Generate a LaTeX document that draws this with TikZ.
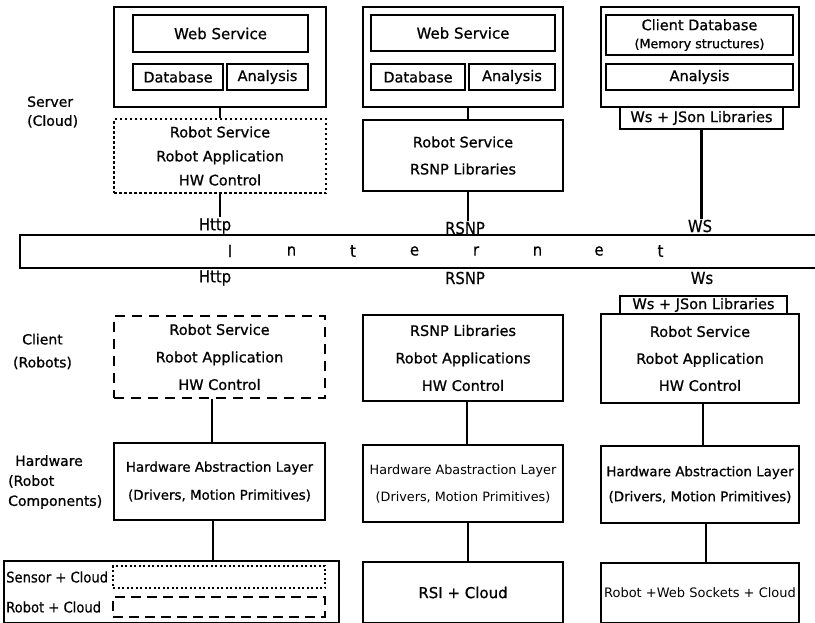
\documentclass[tikz,border=0pt]{standalone}
\usepackage{fontspec}
\setmainfont{DejaVu Sans}[FakeBold=0.8]
\newfontfamily\thinfont{DejaVu Sans}
\newfontfamily\condfont{DejaVu Sans Condensed}[FakeBold=0.5]

\begin{document}
\begin{tikzpicture}[x=1pt, y=-1pt,
  box/.style={draw, line width=1.4pt, inner sep=0pt, align=center, font=\fontsize{14.5}{27}\selectfont},
  dotbox/.style={box, dash pattern=on 2.5pt off 2.5pt},
  dashbox/.style={box, dash pattern=on 10pt off 7pt},
  link/.style={line width=2.3pt},
  proto/.style={font=\condfont\fontsize{16.5}{18}\selectfont, inner sep=1pt},
  side/.style={align=left, font=\fontsize{14}{19}\selectfont, inner sep=0pt}]
  \useasboundingbox (0,0) rectangle (815,622);
  \fill[white] (0,0) rectangle (815,622);
  \clip (0,0) rectangle (815,622);

  %Side labels
  \node[side, anchor=west] (lblSrv) at (27,112) {Server\\(Cloud)};
  \node[side, align=center, font=\fontsize{14}{23}\selectfont] (lblCli) at (42.5,351.5) {Client\\(Robots)};
  \node[side, anchor=west, font=\fontsize{14}{20}\selectfont] (lblHw) at (8,482) {\hspace*{7pt}Hardware\\(Robot\\Components)};

  %Server column A
  \node[box, minimum width=212pt, minimum height=100pt] (srvA) at (220,57) {};
  \node[box, minimum width=175pt, minimum height=37pt, font=\fontsize{15}{18}\selectfont] (wsA) at (220.5,33.5) {Web Service};
  \node[box, minimum width=90pt, minimum height=26pt] (dbA) at (178,77) {Database};
  \node[box, minimum width=81pt, minimum height=26pt] (anA) at (267.5,77) {Analysis};
  \node[dotbox, minimum width=212pt, minimum height=74pt, font=\fontsize{14.5}{24}\selectfont] (rsA) at (220,156)
    {Robot Service\\Robot Application\\HW Control};

  %Server column B
  \node[box, minimum width=200pt, minimum height=100pt] (srvB) at (463,57) {};
  \node[box, minimum width=184pt, minimum height=36pt, font=\fontsize{15}{18}\selectfont] (wsB) at (463,33) {Web Service};
  \node[box, minimum width=94pt, minimum height=26pt] (dbB) at (418,77) {Database};
  \node[box, minimum width=86pt, minimum height=26pt] (anB) at (512,77) {Analysis};
  \node[box, minimum width=200pt, minimum height=71pt] (rsB) at (463,155.5) {Robot Service\\RSNP Libraries};

  %Server column C
  \node[box, minimum width=198pt, minimum height=100pt] (srvC) at (700,57) {};
  \node[box, minimum width=187pt, minimum height=40pt, font=\fontsize{14.5}{18}\selectfont] (cdbC) at (699.5,35)
    {Client Database\\{\fontsize{12.7}{18}\selectfont (Memory structures)}};
  \node[box, minimum width=187pt, minimum height=26pt] (anC) at (699.5,77) {Analysis};
  \node[box, minimum width=163pt, minimum height=22pt] (wsjC) at (701.5,118) {Ws + JSon Libraries};

  %Internet
  \node[box, minimum width=820pt, minimum height=33pt] (inet) at (430,251.5) {};
  \foreach \lt [count=\i from 0] in {I,n,t,e,r,n,e,t}
    \node[proto] (ltr\i) at (230+61.5*\i,251) {\lt};
  \node[proto] (httpT) at (215,226) {Http};
  \node[proto] (rsnpT) at (465,228) {RSNP};
  \node[proto] (wsT) at (700,226) {WS};
  \node[proto] (httpB) at (215,278) {Http};
  \node[proto] (rsnpB) at (465,278) {RSNP};
  \node[proto] (wsB2) at (702,278) {Ws};

  %Client row
  \node[dashbox, minimum width=211pt, minimum height=82pt, font=\fontsize{14.5}{27.5}\selectfont] (clA) at (219.5,357)
    {Robot Service\\Robot Application\\HW Control};
  \node[box, minimum width=200pt, minimum height=86pt, font=\fontsize{14.5}{27.5}\selectfont] (clB) at (463,358)
    {RSNP Libraries\\Robot Applications\\HW Control};
  \node[box, minimum width=167pt, minimum height=18pt] (wsjD) at (703.5,305) {Ws + JSon Libraries};
  \node[box, minimum width=198pt, minimum height=89pt] (clC) at (700,358.5)
    {Robot Service\\Robot Application\\HW Control};

  %Hardware row
  \node[box, minimum width=211pt, minimum height=77pt, font=\fontsize{13.4}{28}\selectfont] (halA) at (219.5,481.5)
    {Hardware Abstraction Layer\\(Drivers, Motion Primitives)};
  \node[box, minimum width=200pt, minimum height=77pt, font=\thinfont\fontsize{12.8}{27}\selectfont] (halB) at (463,483.5)
    {Hardware Abastraction Layer\\(Drivers, Motion Primitives)};
  \node[box, minimum width=198pt, minimum height=77pt, font=\fontsize{13.4}{25}\selectfont] (halC) at (700,484.5)
    {Hardware Abstraction Layer\\(Drivers, Motion Primitives)};

  %Bottom row
  \node[box, minimum width=335pt, minimum height=62pt] (botA) at (171.5,592) {};
  \node[proto, anchor=west, inner sep=0pt, font=\condfont\fontsize{14.6}{17}\selectfont] (sensTxt) at (6,577) {Sensor + Cloud};
  \node[proto, anchor=west, inner sep=0pt, font=\condfont\fontsize{14.6}{17}\selectfont] (robTxt) at (6,607) {Robot + Cloud};
  \node[box, dash pattern=on 2pt off 2.5pt, minimum width=212pt, minimum height=22pt] (sensBox) at (219,577) {};
  \node[box, dash pattern=on 10pt off 6pt, minimum width=212pt, minimum height=20pt] (robBox) at (219,607) {};
  \node[box, minimum width=200pt, minimum height=61pt, font=\fontsize{15}{18}\selectfont] (botB) at (463,592.5) {RSI + Cloud};
  \node[box, minimum width=198pt, minimum height=60pt, font=\thinfont\fontsize{13}{16}\selectfont] (botC) at (700,593)
    {Robot +Web Sockets + Cloud};

  %Links
  \draw[link] (srvA.south) -- (rsA.north);
  \draw[link] (rsA.south) -- (rsA.south |- httpT.north);
  \draw[link] ([xshift=5pt]srvB.south) -- ([xshift=5pt]rsB.north);
  \draw[link] ([xshift=5pt]rsB.south) -- ([xshift=5pt]rsB.south |- rsnpT.north);
  \draw[link] (wsjC.south) -- (wsjC.south |- wsT.north);
  \draw[link] ([xshift=-7.5pt]clA.south) -- ([xshift=-7.5pt]halA.north);
  \draw[link] ([xshift=4pt]clB.south) -- ([xshift=4pt]halB.north);
  \draw[link] ([xshift=3pt]clC.south) -- ([xshift=3pt]halC.north);
  \draw[link] ([xshift=-6.5pt]halA.south) -- ([xshift=-6.5pt]halA.south |- botA.north);
  \draw[link] ([xshift=5pt]halB.south) -- ([xshift=5pt]botB.north);
  \draw[link] ([xshift=6pt]halC.south) -- ([xshift=6pt]botC.north);
\end{tikzpicture}
\end{document}
